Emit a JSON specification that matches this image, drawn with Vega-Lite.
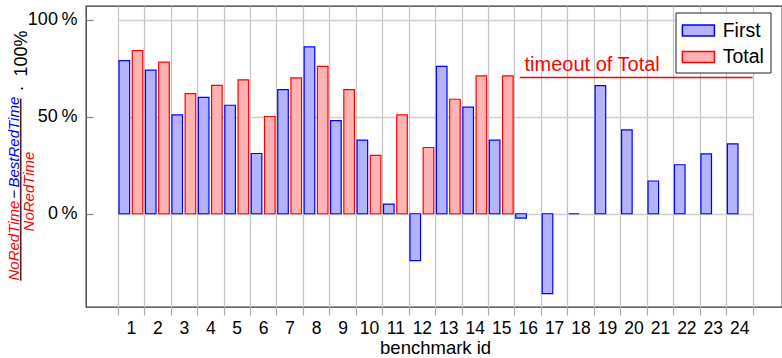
{
  "$schema": "https://vega.github.io/schema/vega-lite/v6.json",
  "width": 696,
  "height": 301,
  "autosize": {"type": "none"},
  "padding": {"left": 86, "top": 6, "right": 0, "bottom": 51},
  "background": "#ffffff",
  "config": {
    "font": "Liberation Sans",
    "view": {"stroke": "#333333", "strokeWidth": 1.3}
  },
  "datasets": {
    "bars": [
      {"id": "1", "series": "First", "value": 79},
      {"id": "1", "series": "Total", "value": 84.2},
      {"id": "2", "series": "First", "value": 74.1},
      {"id": "2", "series": "Total", "value": 78.2},
      {"id": "3", "series": "First", "value": 51},
      {"id": "3", "series": "Total", "value": 62},
      {"id": "4", "series": "First", "value": 60.1},
      {"id": "4", "series": "Total", "value": 66.2},
      {"id": "5", "series": "First", "value": 56},
      {"id": "5", "series": "Total", "value": 69.1},
      {"id": "6", "series": "First", "value": 31.1},
      {"id": "6", "series": "Total", "value": 50.2},
      {"id": "7", "series": "First", "value": 64.1},
      {"id": "7", "series": "Total", "value": 70.1},
      {"id": "8", "series": "First", "value": 86.1},
      {"id": "8", "series": "Total", "value": 76.1},
      {"id": "9", "series": "First", "value": 48.1},
      {"id": "9", "series": "Total", "value": 64.1},
      {"id": "10", "series": "First", "value": 38},
      {"id": "10", "series": "Total", "value": 30.1},
      {"id": "11", "series": "First", "value": 5},
      {"id": "11", "series": "Total", "value": 51},
      {"id": "12", "series": "First", "value": -24.2},
      {"id": "12", "series": "Total", "value": 34.2},
      {"id": "13", "series": "First", "value": 76.1},
      {"id": "13", "series": "Total", "value": 59.1},
      {"id": "14", "series": "First", "value": 55},
      {"id": "14", "series": "Total", "value": 71.1},
      {"id": "15", "series": "First", "value": 38},
      {"id": "15", "series": "Total", "value": 71.1},
      {"id": "16", "series": "First", "value": -2.2},
      {"id": "17", "series": "First", "value": -41.2},
      {"id": "18", "series": "First", "value": 0},
      {"id": "19", "series": "First", "value": 66.1},
      {"id": "20", "series": "First", "value": 43.3},
      {"id": "21", "series": "First", "value": 16.9},
      {"id": "22", "series": "First", "value": 25.3},
      {"id": "23", "series": "First", "value": 30.9},
      {"id": "24", "series": "First", "value": 36.1}
    ],
    "notes": [
      {"id": "16", "to": "24", "value": 70.3, "label": "timeout of Total"}
    ]
  },
  "resolve": {"axis": {"y": "independent"}},
  "layer": [
    {
      "data": {"name": "bars"},
      "mark": {"type": "bar", "strokeWidth": 1.2},
      "encoding": {
        "x": {
          "field": "id", "type": "ordinal", "sort": null,
          "scale": {"domain": ["1","2","3","4","5","6","7","8","9","10","11","12","13","14","15","16","17","18","19","20","21","22","23","24"], "range": [31.7, 666.5], "paddingInner": 0, "paddingOuter": 0},
          "axis": {
            "title": "benchmark id", "titleFontSize": 18.5, "titleFontWeight": "normal", "titleColor": "#000000",
            "titleBaseline": "alphabetic", "titleY": 46.7,
            "labelFontSize": 17.5, "labelColor": "#000000", "labelAngle": 0, "labelPadding": 4.4,
            "tickBand": "extent", "grid": true, "gridColor": "#c4c4c4", "gridWidth": 1.2,
            "ticks": true, "tickSize": 8, "tickColor": "#aaaaaa", "tickWidth": 1.2, "domain": false
          }
        },
        "xOffset": {"field": "series", "type": "nominal", "scale": {"domain": ["First", "Total"], "paddingInner": 0.2, "paddingOuter": 0.1}},
        "y": {
          "field": "value", "type": "quantitative",
          "scale": {"domain": [-48.1, 107.2], "nice": false},
          "axis": {
            "orient": "left", "values": [0, 50, 100], "labelExpr": "datum.value + '\u2009%'",
            "labelFontSize": 18, "labelColor": "#000000", "labelPadding": 16,
            "grid": true, "gridColor": "#d0d0d0", "gridWidth": 1.6, "domain": false,
            "ticks": true, "tickSize": -7, "tickColor": "#888888", "tickWidth": 1.3,
            "title": "·\u2002100%", "titleFontSize": 18, "titleFontWeight": "normal", "titleColor": "#000000",
            "titleAngle": -90, "titleAlign": "left", "titleBaseline": "alphabetic", "titleX": -60, "titleY": 85
          }
        },
        "color": {
          "field": "series", "type": "nominal",
          "scale": {"domain": ["First", "Total"], "range": ["#b3b3ff", "#ffb3b3"]},
          "legend": {"title": null, "orient": "none", "legendX": 589.5, "legendY": 6.5, "direction": "vertical", "labelFontSize": 19.5, "labelColor": "#000000", "labelOffset": 12.3, "symbolOffset": 4.9, "symbolType": "M-1.4545,-0.5H1.4545V0.5H-1.4545Z", "symbolSize": 484, "symbolStrokeWidth": 1.5, "strokeColor": "#222222", "fillColor": "#ffffff", "padding": 6, "rowPadding": 4.5, "cornerRadius": 0}
        },
        "stroke": {
          "field": "series", "type": "nominal",
          "scale": {"domain": ["First", "Total"], "range": ["#0000ff", "#ff0000"]},
          "legend": {"title": null, "orient": "none", "legendX": 589.5, "legendY": 6.5, "direction": "vertical", "labelFontSize": 19.5, "labelColor": "#000000", "labelOffset": 12.3, "symbolOffset": 4.9, "symbolType": "M-1.4545,-0.5H1.4545V0.5H-1.4545Z", "symbolSize": 484, "symbolStrokeWidth": 1.5, "strokeColor": "#222222", "fillColor": "#ffffff", "padding": 6, "rowPadding": 4.5, "cornerRadius": 0}
        }
      }
    },
    {
      "data": {"name": "notes"},
      "mark": {"type": "rule", "color": "#ff0000", "strokeWidth": 1.3},
      "encoding": {
        "x": {"field": "id", "type": "ordinal", "sort": null, "bandPosition": 0.2,
              "scale": {"domain": ["1","2","3","4","5","6","7","8","9","10","11","12","13","14","15","16","17","18","19","20","21","22","23","24"], "range": [31.7, 666.5], "paddingInner": 0, "paddingOuter": 0},
              "axis": {
                "title": "benchmark id", "titleFontSize": 18.5, "titleFontWeight": "normal", "titleColor": "#000000",
                "titleBaseline": "alphabetic", "titleY": 46.7,
                "labelFontSize": 17.5, "labelColor": "#000000", "labelAngle": 0, "labelPadding": 4.4,
                "tickBand": "extent", "grid": true, "gridColor": "#c4c4c4", "gridWidth": 1.2,
                "ticks": true, "tickSize": 8, "tickColor": "#aaaaaa", "tickWidth": 1.2, "domain": false
              }},
        "x2": {"field": "to", "bandPosition": 1},
        "y": {
          "field": "value", "type": "quantitative", "scale": {"domain": [-48.1, 107.2], "nice": false},
          "axis": {"orient": "left", "labels": false, "ticks": false, "domain": false, "grid": false,
                   "title": "NoRedTime", "titleColor": "#ff0000", "titleFontStyle": "italic", "titleFontWeight": "normal", "titleFontSize": 15,
                   "titleAngle": -90, "titleAlign": "left", "titleBaseline": "alphabetic", "titleX": -67.5, "titleY": 274}
        }
      }
    },
    {
      "data": {"name": "notes"},
      "mark": {"type": "text", "color": "#ff0000", "fontSize": 20, "align": "left", "baseline": "alphabetic", "dy": -6.7},
      "encoding": {
        "x": {"field": "id", "type": "ordinal", "sort": null, "bandPosition": 0.38,
              "scale": {"domain": ["1","2","3","4","5","6","7","8","9","10","11","12","13","14","15","16","17","18","19","20","21","22","23","24"], "range": [31.7, 666.5], "paddingInner": 0, "paddingOuter": 0},
              "axis": {
                "title": "benchmark id", "titleFontSize": 18.5, "titleFontWeight": "normal", "titleColor": "#000000",
                "titleBaseline": "alphabetic", "titleY": 46.7,
                "labelFontSize": 17.5, "labelColor": "#000000", "labelAngle": 0, "labelPadding": 4.4,
                "tickBand": "extent", "grid": true, "gridColor": "#c4c4c4", "gridWidth": 1.2,
                "ticks": true, "tickSize": 8, "tickColor": "#aaaaaa", "tickWidth": 1.2, "domain": false
              }},
        "y": {
          "field": "value", "type": "quantitative", "scale": {"domain": [-48.1, 107.2], "nice": false},
          "axis": {"orient": "left", "labels": false, "ticks": false, "domain": false, "grid": false,
                   "title": "BestRedTime", "titleColor": "#0000ff", "titleFontStyle": "italic", "titleFontWeight": "normal", "titleFontSize": 15,
                   "titleAngle": -90, "titleAlign": "left", "titleBaseline": "alphabetic", "titleX": -67.5, "titleY": 181}
        },
        "text": {"field": "label", "type": "nominal"}
      }
    },
    {
      "data": {"name": "notes"},
      "mark": {"type": "rule", "opacity": 0},
      "encoding": {
        "y": {
          "field": "value", "type": "quantitative", "scale": {"domain": [-48.1, 107.2], "nice": false},
          "axis": {"orient": "left", "labels": false, "ticks": false, "domain": false, "grid": false,
                   "title": "−", "titleColor": "#000000", "titleFontWeight": "normal", "titleFontSize": 15,
                   "titleAngle": -90, "titleAlign": "center", "titleBaseline": "alphabetic", "titleX": -67.5, "titleY": 187.6}
        }
      }
    },
    {
      "data": {"name": "notes"},
      "mark": {"type": "rule", "opacity": 0},
      "encoding": {
        "y": {
          "field": "value", "type": "quantitative", "scale": {"domain": [-48.1, 107.2], "nice": false},
          "axis": {"orient": "left", "labels": false, "ticks": false, "domain": false, "grid": false,
                   "title": "────────────────────", "titleFont": "DejaVu Sans", "titleColor": "#000000", "titleFontWeight": "normal", "titleFontSize": 15.1,
                   "titleAngle": -90, "titleAlign": "center", "titleBaseline": "alphabetic", "titleX": -60.2, "titleY": 183}
        }
      }
    },
    {
      "data": {"name": "notes"},
      "mark": {"type": "rule", "opacity": 0},
      "encoding": {
        "y": {
          "field": "value", "type": "quantitative", "scale": {"domain": [-48.1, 107.2], "nice": false},
          "axis": {"orient": "left", "labels": false, "ticks": false, "domain": false, "grid": false,
                   "title": "NoRedTime", "titleColor": "#ff0000", "titleFontStyle": "italic", "titleFontWeight": "normal", "titleFontSize": 15,
                   "titleAngle": -90, "titleAlign": "center", "titleBaseline": "alphabetic", "titleX": -52.5, "titleY": 185}
        }
      }
    }
  ]
}
